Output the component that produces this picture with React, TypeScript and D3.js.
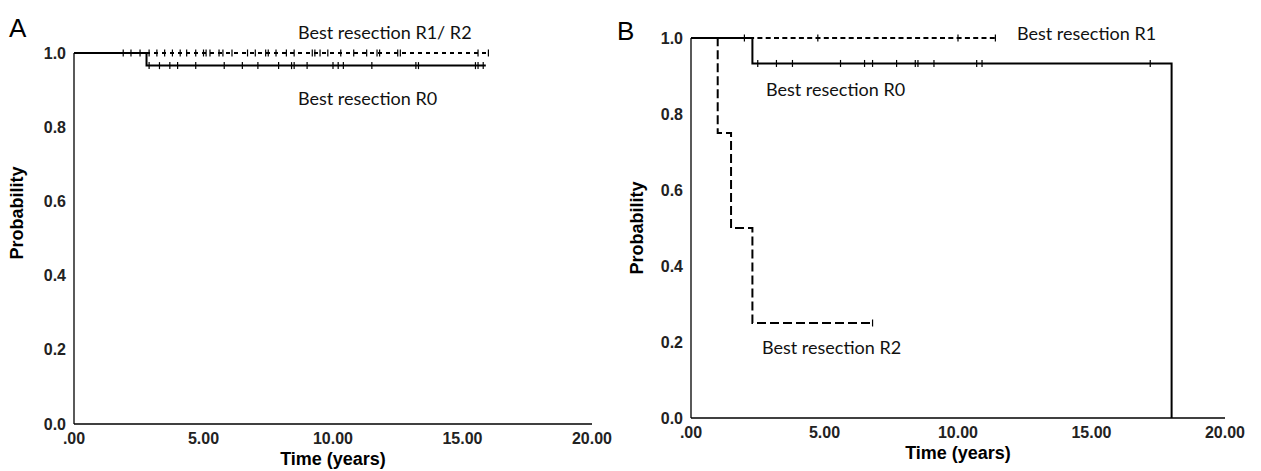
import React from 'react';
import * as d3 from 'd3';

// axis ticks
const timeTicks = [0, 5, 10, 15, 20];
const timeLabels = ['.00', '5.00', '10.00', '15.00', '20.00'];
const probTicks = [0, 0.2, 0.4, 0.6, 0.8, 1.0];
const probLabels = ['0.0', '0.2', '0.4', '0.6', '0.8', '1.0'];

// panel A: R0
const aR0Times = [0, 2.8, 15.9];
const aR0Probs = [1.0, 0.966, 0.966];
const aR0Censored = [2.9, 3.3, 3.7, 4.0, 4.7, 5.8, 6.5, 7.1, 7.9, 8.4, 8.5, 9.0, 10.0, 10.2, 10.4, 11.5, 13.2, 13.3, 15.5, 15.6, 15.8];
// panel A: R1/R2
const aR12Times = [0, 16.0];
const aR12Probs = [1.0, 1.0];
const aR12Censored = [1.9, 2.2, 2.55, 2.9, 3.2, 3.5, 3.8, 4.1, 4.35, 4.7, 5.0, 5.1, 5.25, 5.6, 5.75, 6.1, 6.7, 7.0, 7.4, 7.5, 7.8, 8.2, 8.5, 9.2, 9.3, 9.5, 9.8, 10.3, 10.8, 11.3, 11.7, 11.8, 12.5, 12.6, 15.6, 16.0];

// panel B: R0
const bR0Times = [0, 2.3, 18.0];
const bR0Probs = [1.0, 0.933, 0];
const bR0Censored = [2.5, 3.2, 3.8, 5.6, 6.5, 6.8, 7.7, 8.4, 8.5, 9.1, 10.7, 10.9, 17.2];
// panel B: R1
const bR1Times = [0, 11.5];
const bR1Probs = [1.0, 1.0];
const bR1Censored = [2.0, 4.75, 10.0, 11.4];
// panel B: R2
const bR2Times = [0, 1.0, 1.5, 2.3, 6.8];
const bR2Probs = [1.0, 0.75, 0.5, 0.25, 0.25];
const bR2Censored = [6.8];

const axisFont = '"Liberation Sans", Arial, sans-serif';
const noteFont = 'Lato, "Open Sans", sans-serif';

type Curve = { times: number[]; probs: number[]; censored: number[]; dash?: string; width: number };
type Note = { text: string; x: number; y: number };
type PanelProps = {
  letter: string; letterX: number; letterY: number;
  x0: number; x1: number; y0: number; y1: number;
  titleX: number; titleY: number;
  curves: Curve[]; notes: Note[];
};

function Panel({ letter, letterX, letterY, x0, x1, y0, y1, titleX, titleY, curves, notes }: PanelProps) {
  const x = d3.scaleLinear().domain([0, 20]).range([x0, x1]);
  const y = d3.scaleLinear().domain([0, 1]).range([y0, y1]);
  const line = d3.line<[number, number]>()
    .x(d => x(d[0]))
    .y(d => y(d[1]))
    .curve(d3.curveStepAfter);

  const survAt = (c: Curve, t: number) => {
    let p = c.probs[0];
    c.times.forEach((tt, i) => { if (tt <= t) p = c.probs[i]; });
    return p;
  };

  return (
    <g>
      <text x={letterX} y={letterY} fontFamily={axisFont} fontSize={26}>{letter}</text>
      {/* axes */}
      <line x1={x0} x2={x0} y1={y1} y2={y0} stroke="#000" strokeWidth={1.3} />
      <line x1={x0} x2={x1} y1={y0} y2={y0} stroke="#000" strokeWidth={1.3} />
      {probTicks.map((p, i) => (
        <text key={'y' + i} x={x0 - 8} y={y(p)} dy="0.35em" textAnchor="end"
          fontFamily={axisFont} fontSize={16} fontWeight="bold" fill="#222">{probLabels[i]}</text>
      ))}
      {timeTicks.map((t, i) => (
        <text key={'x' + i} x={x(t)} y={y0 + 20} textAnchor="middle"
          fontFamily={axisFont} fontSize={16} fontWeight="bold" fill="#222">{timeLabels[i]}</text>
      ))}
      <text x={(x0 + x1) / 2} y={y0 + 41} textAnchor="middle" fontFamily={axisFont}
        fontSize={18} fontWeight="bold">Time (years)</text>
      <text transform={`translate(${titleX},${titleY}) rotate(-90)`} textAnchor="middle"
        fontFamily={axisFont} fontSize={18} fontWeight="bold">Probability</text>
      {/* curves */}
      {curves.map((c, i) => (
        <g key={'c' + i}>
          <path d={line(c.times.map((t, j) => [t, c.probs[j]] as [number, number])) || ''}
            fill="none" stroke="#000" strokeWidth={c.width} strokeDasharray={c.dash} />
          {c.censored.map((t, j) => (
            <line key={j} x1={x(t)} x2={x(t)} y1={y(survAt(c, t)) - 3.5} y2={y(survAt(c, t)) + 3.5}
              stroke="#000" strokeWidth={1.2} />
          ))}
        </g>
      ))}
      {notes.map((n, i) => (
        <text key={'n' + i} x={n.x} y={n.y} fontFamily={noteFont} fontSize={18} fill="#111">{n.text}</text>
      ))}
    </g>
  );
}

export default function App() {
  return (
    <svg width={1261} height={471} style={{ position: 'absolute', left: 0, top: 0, background: '#fff' }}>
      <Panel letter="A" letterX={9} letterY={37}
        x0={74} x1={592} y0={424} y1={53} titleX={23} titleY={213}
        curves={[
          { times: aR12Times, probs: aR12Probs, censored: aR12Censored, dash: '4,4', width: 2 },
          { times: aR0Times, probs: aR0Probs, censored: aR0Censored, width: 2 },
        ]}
        notes={[
          { text: 'Best resection R1/ R2', x: 298, y: 39 },
          { text: 'Best resection R0', x: 298, y: 105 },
        ]} />
      <Panel letter="B" letterX={617} letterY={40}
        x0={691} x1={1225} y0={418} y1={38} titleX={643} titleY={228}
        curves={[
          { times: bR1Times, probs: bR1Probs, censored: bR1Censored, dash: '5,3.3', width: 2 },
          { times: bR2Times, probs: bR2Probs, censored: bR2Censored, dash: '9,4', width: 2 },
          { times: bR0Times, probs: bR0Probs, censored: bR0Censored, width: 2 },
        ]}
        notes={[
          { text: 'Best resection R1', x: 1017, y: 40 },
          { text: 'Best resection R0', x: 766, y: 96 },
          { text: 'Best resection R2', x: 762, y: 354 },
        ]} />
    </svg>
  );
}
